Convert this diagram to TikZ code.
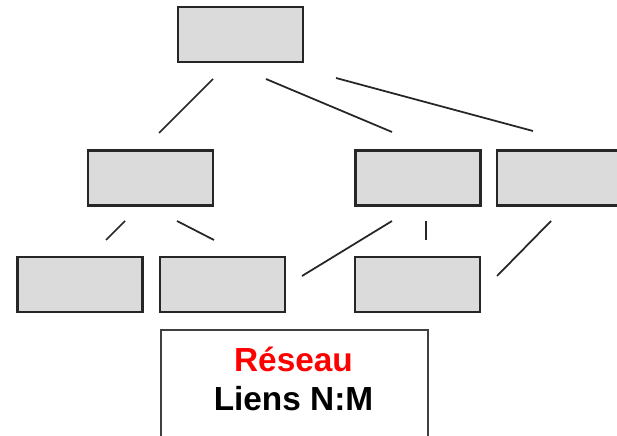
\documentclass[tikz,border=0pt]{standalone}
\usepackage{fontspec}
\setmainfont{Liberation Sans}
\usetikzlibrary{calc}

\tikzset{
  boite/.style={draw=black!85, fill=black!14, line width=1.2pt,
    minimum width=2.5cm, minimum height=1.1cm, inner sep=0pt},
  lien/.style={draw=black!85, line width=1pt},
  legende/.style={draw=black!75, line width=0.9pt, fill=white,
    minimum width=5.34cm, minimum height=2.6cm, inner sep=0pt},
}

\begin{document}
\begin{tikzpicture}[x=0.02cm,y=-0.02cm]
               \clip (0,0) rectangle (617,435);
               % niveau 1
               \node[boite] (racine) at (240.5,34.5) {};
               % niveau 2
               \node[boite] (gauche) at (150.5,178) {};
               \node[boite] (centre) at (418,178) {};
               \node[boite] (droite) at (559.5,178) {};
               % niveau 3
               \node[boite] (feuilleA) at (80,284.5) {};
               \node[boite] (feuilleB) at (222.5,284.5) {};
               \node[boite] (feuilleC) at (417.5,284.5) {};
               % extremites des liens
               \coordinate (r1) at (213,79);   \coordinate (g1) at (159,133);
               \coordinate (r2) at (266,79);   \coordinate (c1) at (392,132);
               \coordinate (r3) at (336,78);   \coordinate (d1) at (533,131);
               \coordinate (g2) at (125,221);  \coordinate (fa) at (106,240);
               \coordinate (g3) at (177,221);  \coordinate (fb1) at (214,240);
               \coordinate (c2) at (392,221);  \coordinate (fb2) at (302,276);
               \coordinate (c3) at (426,221);  \coordinate (fc1) at (426,240);
               \coordinate (d2) at (551,221);  \coordinate (fc2) at (497,276);
               \draw[lien] (r1) -- (g1);
               \draw[lien] (r2) -- (c1);
               \draw[lien] (r3) -- (d1);
               \draw[lien] (g2) -- (fa);
               \draw[lien] (g3) -- (fb1);
               \draw[lien] (c2) -- (fb2);
               \draw[lien] (c3) -- (fc1);
               \draw[lien] (d2) -- (fc2);
               % legende
               \node[legende, anchor=north west] (cadre) at (160,329) {};
               \node[anchor=base, align=center, font=\fontsize{19}{22}\selectfont\bfseries]
                  (titre) at (293.5,410) {\textcolor{red}{Réseau}\\Liens N:M};
            \end{tikzpicture}
\end{document}
